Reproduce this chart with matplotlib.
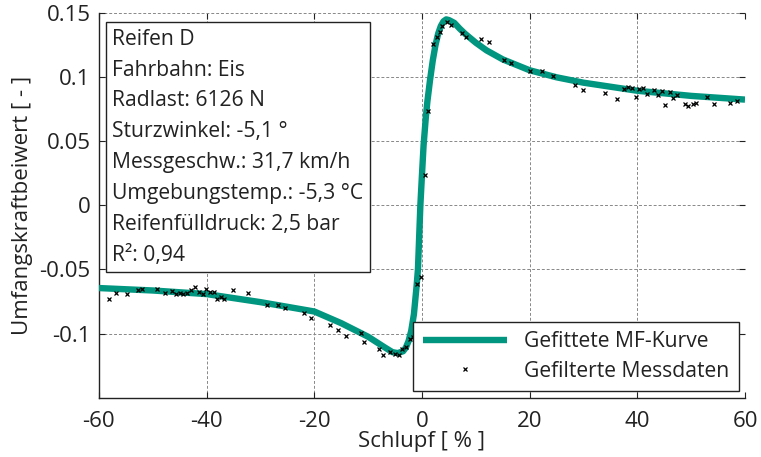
import matplotlib
matplotlib.use("Agg")
import matplotlib.pyplot as plt

plt.rcParams['font.family'] = ['Open Sans', 'DejaVu Sans']

# Fitted MF curve
curve_x = [-60, -50, -40, -30, -20, -15, -10, -7, -5.5, -4.5, -3.5, -3, -2.5, -2, -1.5, -1,
           -0.75, -0.3, 0, 0.3, 0.7, 1.0, 1.5, 2, 2.5, 3, 3.5, 4, 4.5, 5, 6, 7, 8, 10, 12, 15,
           20, 25, 30, 40, 50, 60]
curve_y = [-0.0645, -0.0664, -0.0692, -0.0755, -0.0828, -0.0919, -0.1025, -0.1106, -0.1145,
           -0.1153, -0.1138, -0.111, -0.106, -0.098, -0.085, -0.063,
           -0.05, 0.0, 0.024, 0.047, 0.068, 0.081, 0.098, 0.113, 0.125, 0.134, 0.140, 0.1437,
           0.1452, 0.1447, 0.1425, 0.138, 0.134, 0.127, 0.121, 0.114,
           0.1055, 0.1, 0.0958, 0.0895, 0.0855, 0.0826]

# Filtered measurement data
meas_x = [-58.2, -56.8, -54.8, -52.7, -52.0, -49.2, -47.7, -46.4, -45.6, -45.0, -44.3, -43.6,
          -42.9, -42.2, -41.5, -40.7, -40.1, -39.4, -38.7, -38.0, -37.3, -36.7, -35.1, -32.4,
          -28.8, -26.8, -25.4, -21.9, -20.6, -17.0, -15.6, -14.2, -11.3, -10.7, -7.9, -7.2,
          -5.9, -5.1, -4.3, -3.7, -2.9, -2.3, -1.7, -0.9, -0.2, 0.5, 1.1,
          2.0, 2.7, 3.3, 3.8, 4.6, 5.4, 7.5, 8.2, 11.0, 12.4, 15.2, 16.6,
          20.0, 22.2, 24.3, 28.5, 29.9, 34.0, 36.2, 37.6, 38.3, 39.0, 39.7, 40.4, 41.0, 41.8,
          43.1, 43.9, 44.6, 45.2, 46.0, 46.7, 47.4, 48.8, 49.5, 50.3, 50.9, 53.0, 54.3, 57.3, 58.6]
meas_y = [-0.0731, -0.0684, -0.069, -0.0664, -0.0653, -0.0653, -0.068, -0.0666, -0.069, -0.0684,
          -0.069, -0.0684, -0.0659, -0.0633, -0.0672, -0.069, -0.0653, -0.0677, -0.0672, -0.0731,
          -0.0711, -0.0727, -0.0659, -0.0684, -0.0776, -0.0776, -0.0802, -0.0841, -0.088, -0.0932,
          -0.0971, -0.1018, -0.0997, -0.1063, -0.1122, -0.1166, -0.1148, -0.1159, -0.1166, -0.1122,
          -0.1102, -0.1044, -0.1028, -0.0612, -0.0559, 0.0234, 0.074,
          0.126, 0.1316, 0.1352, 0.1404, 0.1433, 0.1412, 0.1347, 0.1316, 0.13, 0.1273, 0.1133, 0.1112,
          0.1052, 0.1052, 0.1008, 0.0943, 0.0898, 0.0878, 0.0831, 0.0909, 0.0925, 0.0917, 0.0844,
          0.0909, 0.0917, 0.087, 0.0904, 0.0865, 0.0891, 0.0787, 0.0883, 0.0839, 0.0865, 0.0795,
          0.0773, 0.0792, 0.08, 0.0847, 0.0792, 0.08, 0.0812]

x_ticks = [-60, -40, -20, 0, 20, 40, 60]
y_ticks = [-0.1, -0.05, 0, 0.05, 0.1, 0.15]
y_labels = ['-0.1', '-0.05', '0', '0.05', '0.1', '0.15']

info_lines = ["Reifen D", "Fahrbahn: Eis", "Radlast: 6126 N", "Sturzwinkel: -5,1 °",
              "Messgeschw.: 31,7 km/h", "Umgebungstemp.: -5,3 °C", "Reifenfülldruck: 2,5 bar",
              "R²: 0,94"]

TXT = '#222222'

fig = plt.figure(figsize=(7.61, 4.57), dpi=100)
ax = fig.add_axes([0.130, 0.130, 0.849, 0.841])

ax.plot(curve_x, curve_y, color='#00967F', lw=4.6, label='Gefittete MF-Kurve', zorder=3,
        solid_capstyle='butt')
ax.plot(meas_x, meas_y, linestyle='none', marker='x', ms=3, mew=0.9, color='black',
        label='Gefilterte Messdaten', zorder=4)

ax.set_xlim(-60, 60)
ax.set_ylim(-0.15, 0.15)
ax.set_xticks(x_ticks)
ax.set_xticklabels([str(v) for v in x_ticks])
ax.set_yticks(y_ticks)
ax.set_yticklabels(y_labels)
ax.tick_params(direction='in', length=4, width=0.8, labelsize=16, top=True, right=True,
               colors=TXT, pad=6)
ax.tick_params(axis='x', pad=10)
ax.grid(True, color='#888888', linestyle=(0, (3, 2)), linewidth=0.7)
ax.spines['top'].set_visible(False)
ax.spines['right'].set_visible(False)
for s in ['left', 'bottom']:
    ax.spines[s].set_color(TXT)
    ax.spines[s].set_linewidth(1.0)

ax.set_xlabel('Schlupf [ % ]', fontsize=16, labelpad=-1, color=TXT)
ax.set_ylabel('Umfangskraftbeiwert [ - ]', fontsize=16, labelpad=5, color=TXT)

ax.text(0.021, 0.960, "\n".join(info_lines), transform=ax.transAxes, fontsize=15.2,
        va='top', ha='left', linespacing=1.62, color=TXT, zorder=6,
        bbox=dict(boxstyle='square,pad=0.3', facecolor='white', edgecolor=TXT, lw=1.0))

leg = ax.legend(loc='lower right', fontsize=15.2, frameon=True, fancybox=False,
                edgecolor=TXT, framealpha=1, borderaxespad=0.3, handlelength=4.0,
                markerscale=1.0, labelspacing=0.4, borderpad=0.45)
leg.get_frame().set_linewidth(1.0)
for t in leg.get_texts():
    t.set_color(TXT)

fig.savefig('out.png', dpi=100)
